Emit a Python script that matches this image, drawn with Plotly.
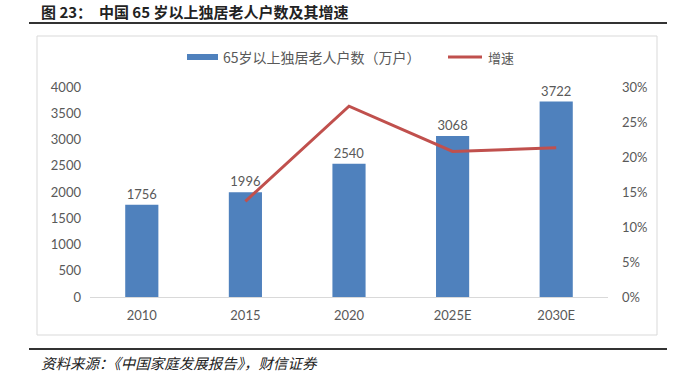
import plotly.graph_objects as go

categories = ["2010", "2015", "2020", "2025E", "2030E"]
households = [1756, 1996, 2540, 3068, 3722]
growth_cats = ["2015", "2020", "2025E", "2030E"]
growth = [0.1367, 0.2725, 0.2079, 0.2132]
left_ticks = [0, 500, 1000, 1500, 2000, 2500, 3000, 3500, 4000]
right_ticks = [0, 0.05, 0.10, 0.15, 0.20, 0.25, 0.30]

BAR = "#4F81BD"
LINE = "#C0504D"
TXT = "#595959"
NUMFONT = "Lato, 'Noto Sans CJK SC', sans-serif"
CJK = "'Noto Sans CJK SC', sans-serif"

FW, FH = 683, 376
L, R, T, B = 90, 608, 87, 297  # page coords of plot area
W, H = R - L, B - T

def px(x):
    return (x - L) / W

def py(y):
    return (B - y) / H

fig = go.Figure()
fig.add_trace(go.Bar(
    x=categories, y=households, marker=dict(color=BAR, line=dict(width=0)),
    width=0.32, text=[str(v) for v in households], textposition="outside",
    textfont=dict(family=NUMFONT, size=13, color=TXT), cliponaxis=False,
    showlegend=False, name="65岁以上独居老人户数（万户）",
))
fig.add_trace(go.Scatter(
    x=growth_cats, y=growth, yaxis="y2", mode="lines",
    line=dict(color=LINE, width=3), showlegend=False, name="增速",
))

shapes = [
    dict(type="rect", xref="paper", yref="paper", x0=px(37), x1=px(657), y0=py(335), y1=py(36),
         line=dict(color="#D9D9D9", width=1), fillcolor="rgba(0,0,0,0)", layer="below"),
    dict(type="line", xref="paper", yref="paper", x0=px(29), x1=px(667), y0=py(23), y1=py(23),
         line=dict(color="#333333", width=2)),
    dict(type="line", xref="paper", yref="paper", x0=px(29), x1=px(667), y0=py(349), y1=py(349),
         line=dict(color="#333333", width=2)),
    dict(type="rect", xref="paper", yref="paper", x0=px(187), x1=px(218), y0=py(60), y1=py(54),
         line=dict(width=0), fillcolor=BAR),
    dict(type="line", xref="paper", yref="paper", x0=px(448), x1=px(482), y0=py(57), y1=py(57),
         line=dict(color=LINE, width=3)),
]

annotations = [
    dict(text="<b>图 23：  中国 65 岁以上独居老人户数及其增速</b>", xref="paper", yref="paper",
         x=px(39), y=py(12), xanchor="left", yanchor="middle", showarrow=False,
         font=dict(family=CJK, size=15, color="#222222")),
    dict(text="<i>资料来源：《中国家庭发展报告》，财信证券</i>", xref="paper", yref="paper",
         x=px(39), y=py(362), xanchor="left", yanchor="middle", showarrow=False,
         font=dict(family=CJK, size=14.5, color="#222222")),
    dict(text="65岁以上独居老人户数（万户）", xref="paper", yref="paper",
         x=px(221), y=py(57), xanchor="left", yanchor="middle", showarrow=False,
         font=dict(family=CJK, size=14, color=TXT)),
    dict(text="增速", xref="paper", yref="paper",
         x=px(486), y=py(57), xanchor="left", yanchor="middle", showarrow=False,
         font=dict(family=CJK, size=13, color=TXT)),
]

fig.update_layout(
    width=FW, height=FH,
    margin=dict(l=L, r=FW - R, t=T, b=FH - B, pad=0),
    paper_bgcolor="white", plot_bgcolor="white",
    xaxis=dict(type="category", categoryorder="array", categoryarray=categories,
               showgrid=False, showline=True, linecolor="#D9D9D9", linewidth=1,
               ticks="", tickfont=dict(family=NUMFONT, size=13, color=TXT), ticklabelstandoff=6),
    yaxis=dict(range=[0, 4000], tickvals=left_ticks, showgrid=False, zeroline=False,
               showline=False, ticks="", tickfont=dict(family=NUMFONT, size=13, color=TXT),
               ticklabelstandoff=8),
    yaxis2=dict(range=[0, 0.30], tickvals=right_ticks, tickformat=".0%", overlaying="y",
                side="right", showgrid=False, zeroline=False, showline=False, ticks="",
                tickfont=dict(family=NUMFONT, size=13, color=TXT), ticklabelstandoff=13),
    shapes=shapes, annotations=annotations,
)

fig.write_html("out.html", config={"displayModeBar": False},
               post_script="document.body.style.margin='0';document.body.style.overflow='hidden';")
